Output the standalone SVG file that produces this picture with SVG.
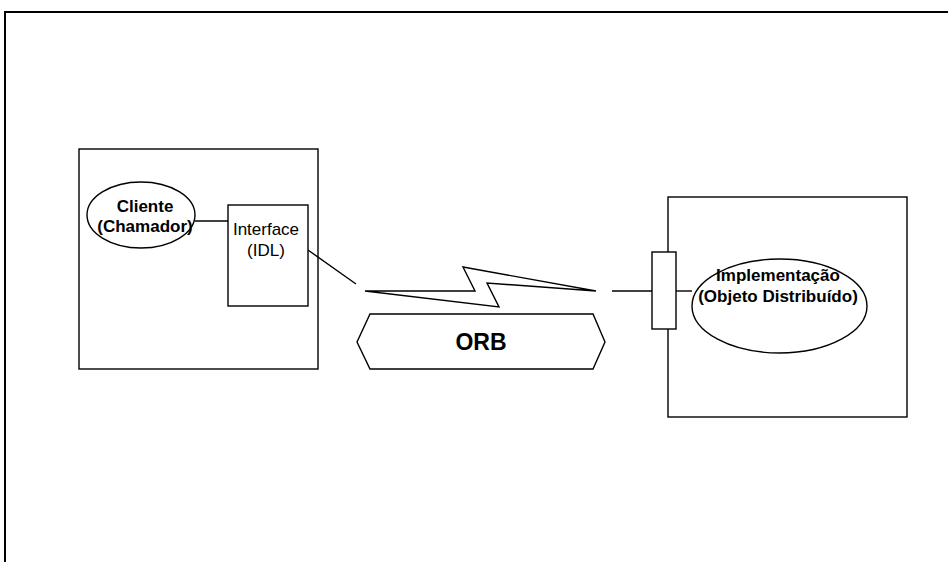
<svg xmlns="http://www.w3.org/2000/svg" width="948" height="562" viewBox="0 0 948 562">
  <style>
    .shape { fill: #fff; stroke: #000; stroke-width: 1.4; }
    .wire { fill: none; stroke: #000; stroke-width: 1.4; }
    .frame { fill: none; stroke: #000; stroke-width: 2; }
    text { font-family: "Liberation Sans", Arial, sans-serif; font-size: 17px; fill: #000; text-anchor: middle; }
    .bold { font-weight: bold; }
  </style>
  <rect width="948" height="562" fill="#fff"/>

  <!-- page frame -->
  <path class="frame" d="M5,562 V12 H948"/>

  <!-- client side container -->
  <g id="client-host">
    <rect class="shape" x="79" y="149" width="239" height="220"/>
  </g>

  <!-- server side container -->
  <g id="server-host">
    <rect class="shape" x="668" y="197" width="239" height="220"/>
  </g>

  <g id="connectors">
    <line class="wire" x1="195" y1="221" x2="228" y2="221"/>
    <line class="wire" x1="308" y1="250" x2="356" y2="284"/>
    <line class="wire" x1="612" y1="291" x2="652" y2="291"/>
    <line class="wire" x1="676" y1="291" x2="692" y2="291"/>
    <!-- lightning bolt (network link) -->
    <polygon class="wire" points="365,291 475,291 463,267 596,291 487,283 499,307"/>
  </g>

  <g id="cliente">
    <ellipse class="shape" cx="141" cy="215" rx="54" ry="33"/>
    <text class="bold" x="145" y="212">Cliente</text>
    <text class="bold" x="145" y="232">(Chamador)</text>
  </g>

  <g id="interface">
    <rect class="shape" x="228" y="205" width="80" height="101"/>
    <text x="266" y="235">Interface</text>
    <text x="266" y="256">(IDL)</text>
  </g>

  <g id="orb">
    <polygon class="shape" points="357,342 370,314 593,314 605,342 593,369 370,369"/>
    <text class="bold" x="481" y="350" style="font-size:23px">ORB</text>
  </g>

  <g id="skeleton">
    <rect class="shape" x="652" y="252" width="24" height="77"/>
  </g>

  <g id="implementacao">
    <ellipse class="shape" cx="779.5" cy="306" rx="87.5" ry="47"/>
    <text class="bold" x="778" y="281">Implementação</text>
    <text class="bold" x="778" y="302">(Objeto Distribuído)</text>
  </g>
</svg>
